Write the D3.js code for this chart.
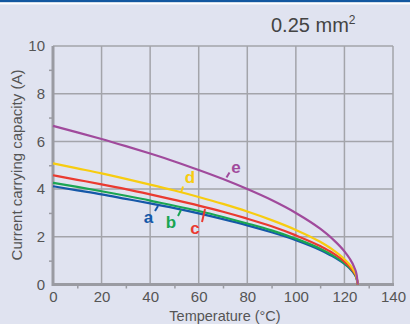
<!DOCTYPE html>
<html><head><meta charset="utf-8">
<script src="https://cdn.jsdelivr.net/npm/d3@7"></script>
<style>
html,body{margin:0;padding:0;background:#e0e3f0;}
svg{display:block;}
text{font-family:"Liberation Sans","DejaVu Sans",sans-serif;}
</style></head><body>
<svg id="c" width="410" height="324"></svg>
<script>
const temps = [0,10,20,30,40,50,60,70,80,90,100,110,115,120,122,124,125,125.5];
const seriesA = [4.12,3.95,3.78,3.59,3.40,3.20,2.98,2.74,2.48,2.19,1.86,1.45,1.19,0.86,0.69,0.45,0.26,0];
const seriesB = [4.26,4.09,3.91,3.72,3.52,3.30,3.08,2.83,2.56,2.27,1.92,1.50,1.23,0.89,0.71,0.47,0.27,0];
const seriesC = [4.58,4.39,4.20,4.00,3.78,3.55,3.31,3.05,2.76,2.44,2.06,1.61,1.33,0.96,0.76,0.50,0.29,0];
const seriesD = [5.08,4.87,4.66,4.43,4.19,3.94,3.67,3.38,3.06,2.70,2.29,1.79,1.47,1.06,0.85,0.56,0.32,0];
const seriesE = [6.65,6.38,6.10,5.80,5.49,5.16,4.80,4.42,4.00,3.54,3.00,2.34,1.92,1.39,1.11,0.73,0.42,0];
const seriesNames = ["a","b","c","d","e"];
const seriesColors = ["#1558a8","#1aa552","#ea3a30","#f7cc10","#a04a9c"];
const xTicks = [0,20,40,60,80,100,120,140];
const yTicks = [0,2,4,6,8,10];
const xMinor = [10,30,50,70,90,110,130];
const yMinor = [1,3,5,7,9];

const svg = d3.select("#c");
const W=410,H=324;
svg.append("rect").attr("width",W).attr("height",H).attr("fill","#e0e3f0");
svg.append("rect").attr("x",0).attr("y",0).attr("width",W).attr("height",2.4).attr("fill","#1458a0");
svg.append("rect").attr("x",0).attr("y",2.4).attr("width",W).attr("height",2).attr("fill","#ffffff");

const x = d3.scaleLinear().domain([0,140]).range([53,393]);
const y = d3.scaleLinear().domain([0,10]).range([284.5,46]);

const g = svg.append("g");
// grid
g.selectAll(".vg").data(xTicks.slice(1)).enter().append("line")
 .attr("x1",d=>x(d)).attr("x2",d=>x(d)).attr("y1",y(0)).attr("y2",y(10))
 .attr("stroke","#a3a4aa").attr("stroke-width",1.5);
g.selectAll(".hg").data(yTicks.slice(1)).enter().append("line")
 .attr("x1",x(0)).attr("x2",x(140)).attr("y1",d=>y(d)).attr("y2",d=>y(d))
 .attr("stroke","#a3a4aa").attr("stroke-width",1.5);

// minor ticks
const xa = g.append("g").attr("transform",`translate(0,${y(0)})`).call(d3.axisBottom(x).tickValues(xMinor).tickSize(4).tickFormat(""));
xa.select(".domain").remove();
xa.selectAll("line").attr("stroke","#9a9ba2").attr("stroke-width",1.5);
const ya = g.append("g").attr("transform",`translate(${x(0)},0)`).call(d3.axisLeft(y).tickValues(yMinor).tickSize(4).tickFormat(""));
ya.select(".domain").remove();
ya.selectAll("line").attr("stroke","#9a9ba2").attr("stroke-width",1.5);

// tick labels
const xl = g.append("g").attr("transform",`translate(0,${y(0)})`).call(d3.axisBottom(x).tickValues(xTicks).tickSize(0).tickPadding(7));
xl.select(".domain").remove();
xl.selectAll("text").attr("font-size",15).attr("fill","#555").attr("font-family","'Liberation Sans',sans-serif");
const yl = g.append("g").attr("transform",`translate(${x(0)},0)`).call(d3.axisLeft(y).tickValues(yTicks).tickSize(0).tickPadding(8));
yl.select(".domain").remove();
yl.selectAll("text").attr("font-size",15).attr("fill","#555").attr("font-family","'Liberation Sans',sans-serif");

// main axis lines
g.append("line").attr("x1",x(0)).attr("x2",x(140)+1).attr("y1",y(0)).attr("y2",y(0)).attr("stroke","#9a9ba2").attr("stroke-width",3);
g.append("line").attr("x1",x(0)).attr("x2",x(0)).attr("y1",y(0)+1.5).attr("y2",y(10)).attr("stroke","#9a9ba2").attr("stroke-width",3);

// curves
const allSeries = [seriesA,seriesB,seriesC,seriesD,seriesE];
const line = d3.line().x((d,i)=>x(temps[i])).y(d=>y(d)).curve(d3.curveMonotoneX);
allSeries.forEach((s,k)=>{
  g.append("path").datum(s).attr("d",line).attr("fill","none")
   .attr("stroke",seriesColors[k]).attr("stroke-width",2.2);
});

// labels with small leader ticks
const labelPos = [[148.5,223],[171,227.5],[195,234],[190,182.5],[236,172.5]];
const tickEnd = [[-3,-5],[-3,-6],[-3,-13],[-2,-6],[-3,-5]];
const tickStart = [[155,211],[178,216],[202,222],[181,192.5],[226.5,177.5]];
seriesNames.forEach((n,k)=>{
  const [sx,sy]=tickStart[k];
  g.append("line").attr("x1",sx).attr("y1",sy).attr("x2",sx-tickEnd[k][0]).attr("y2",sy+tickEnd[k][1])
   .attr("stroke",seriesColors[k]).attr("stroke-width",2);
  g.append("text").attr("x",labelPos[k][0]).attr("y",labelPos[k][1]).attr("text-anchor","middle")
   .attr("font-size",17).attr("font-weight","bold").attr("fill",seriesColors[k]).text(n);
});

// titles
svg.append("text").attr("x",271).attr("y",32).attr("font-size",20).attr("fill","#444")
  .text("0.25 mm").append("tspan").attr("font-size",12).attr("dy",-8).text("2");
svg.append("text").attr("x",225).attr("y",321).attr("text-anchor","middle").attr("font-size",14.5).attr("fill","#555").text("Temperature (°C)");
svg.append("text").attr("transform","translate(22,165) rotate(-90)").attr("text-anchor","middle").attr("font-size",15).attr("fill","#555").text("Current carrying capacity (A)");
</script>
</body></html>
